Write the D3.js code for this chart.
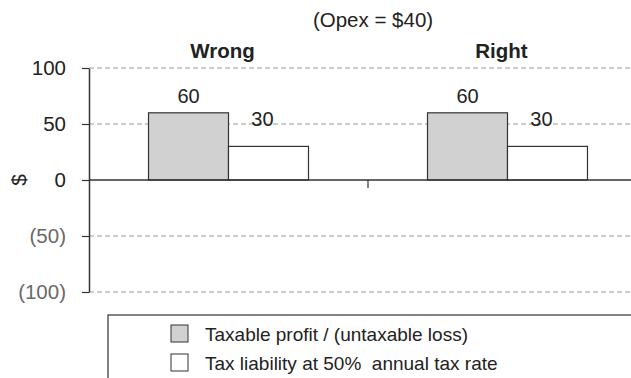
<!DOCTYPE html>
<html>
<head>
<meta charset="utf-8">
<script src="https://cdn.jsdelivr.net/npm/d3@7"></script>
<style>
  html, body { margin: 0; padding: 0; background: #fff; }
  svg { display: block; font-family: "Liberation Sans", Arial, Helvetica, sans-serif; }
</style>
</head>
<body>
<svg id="chart" width="631" height="378"></svg>
<script>
// Taxable profit vs. tax liability, two treatments of opex
const categories = ["Wrong", "Right"];
const seriesNames = ["Taxable profit / (untaxable loss)", "Tax liability at 50%  annual tax rate"];
const taxableProfit = [60, 60];
const taxLiability = [30, 30];
const yTicks = [-100, -50, 0, 50, 100];
const yTickLabels = ["(100)", "(50)", "0", "50", "100"];
const seriesFill = ["#d1d1d1", "#ffffff"];
const labelLift = [10, 20];

const seriesValues = [taxableProfit, taxLiability];

const svg = d3.select("#chart");
const W = 631, H = 378;
const left = 89;

const y = d3.scaleLinear().domain([-100, 100]).range([292, 68]);
const x = d3.scaleBand().domain(categories).range([left, left + 2 * 279]).padding(0);
const xs = d3.scaleBand().domain(d3.range(seriesNames.length)).range([0, x.bandwidth()])
  .paddingInner(0).paddingOuter(0.744);

// gridlines
svg.append("g").selectAll("line")
  .data(yTicks.filter(t => t !== 0))
  .join("line")
  .attr("x1", left).attr("x2", W)
  .attr("y1", d => y(d)).attr("y2", d => y(d))
  .attr("stroke", "#9a9a9a").attr("stroke-width", 1)
  .attr("stroke-dasharray", "5,3");

// title
svg.append("text").attr("x", 373).attr("y", 27).attr("text-anchor", "middle")
  .attr("font-size", 20.5).attr("fill", "#222").text("(Opex = $40)");

// category headings
svg.append("g").selectAll("text").data(categories).join("text")
  .attr("x", d => x(d) + x.bandwidth() / 2 - 6)
  .attr("y", 58).attr("text-anchor", "middle")
  .attr("font-size", 20.5).attr("font-weight", "bold").attr("fill", "#222")
  .text(d => d);

// bars
const groups = svg.append("g").selectAll("g").data(categories).join("g")
  .attr("transform", d => `translate(${x(d)},0)`);

groups.selectAll("rect")
  .data((c, ci) => seriesValues.map((vals, si) => ({ si, v: vals[ci] })))
  .join("rect")
  .attr("x", d => xs(d.si))
  .attr("width", xs.bandwidth())
  .attr("y", d => y(Math.max(0, d.v)))
  .attr("height", d => Math.abs(y(d.v) - y(0)))
  .attr("fill", d => seriesFill[d.si])
  .attr("stroke", "#333").attr("stroke-width", 1.2);

groups.selectAll("text.val")
  .data((c, ci) => seriesValues.map((vals, si) => ({ si, v: vals[ci] })))
  .join("text").attr("class", "val")
  .attr("x", d => xs(d.si) + xs.bandwidth() / 2 - (d.si === 1 ? 6 : 0))
  .attr("y", d => y(d.v) - labelLift[d.si])
  .attr("text-anchor", "middle").attr("font-size", 20).attr("fill", "#222")
  .text(d => d.v);

// zero line
svg.append("line").attr("x1", left).attr("x2", W)
  .attr("y1", y(0)).attr("y2", y(0))
  .attr("stroke", "#333").attr("stroke-width", 1.5);

// category tick marks below the zero line
svg.append("g").selectAll("line").data(categories.slice(1)).join("line")
  .attr("x1", d => x(d)).attr("x2", d => x(d))
  .attr("y1", y(0)).attr("y2", y(0) + 8)
  .attr("stroke", "#333").attr("stroke-width", 1.2);

// y axis
const yAxis = d3.axisLeft(y).tickValues(yTicks)
  .tickFormat((d, i) => yTickLabels[i]).tickSize(7).tickSizeOuter(0).tickPadding(16);
const ya = svg.append("g").attr("transform", `translate(${left},0)`).call(yAxis);
ya.select(".domain").attr("stroke", "#333").attr("stroke-width", 1.5);
ya.selectAll(".tick line").attr("stroke", "#333").attr("stroke-width", 1.2);
ya.selectAll(".tick text")
  .attr("font-size", 20.5)
  .attr("font-family", "Liberation Sans, Arial, sans-serif")
  .attr("fill", d => d < 0 ? "#6a6a6a" : "#222");

// y axis title
svg.append("text").attr("transform", `translate(25.5,${y(0)}) rotate(-90)`)
  .attr("text-anchor", "middle").attr("font-size", 21).attr("fill", "#222").text("$");

// legend
const lg = svg.append("g");
lg.append("rect").attr("x", 108).attr("y", 315).attr("width", 600).attr("height", 100)
  .attr("fill", "#fff").attr("stroke", "#333").attr("stroke-width", 1.2);
const items = lg.selectAll("g").data(seriesNames).join("g")
  .attr("transform", (d, i) => `translate(171,${325 + i * 29})`);
items.append("rect").attr("width", 17).attr("height", 17)
  .attr("fill", (d, i) => seriesFill[i]).attr("stroke", "#333").attr("stroke-width", 1);
items.append("text").attr("x", 34).attr("y", 15.5)
  .attr("font-size", 19).attr("fill", "#222")
  .style("white-space", "pre").text(d => d);
</script>
</body>
</html>
